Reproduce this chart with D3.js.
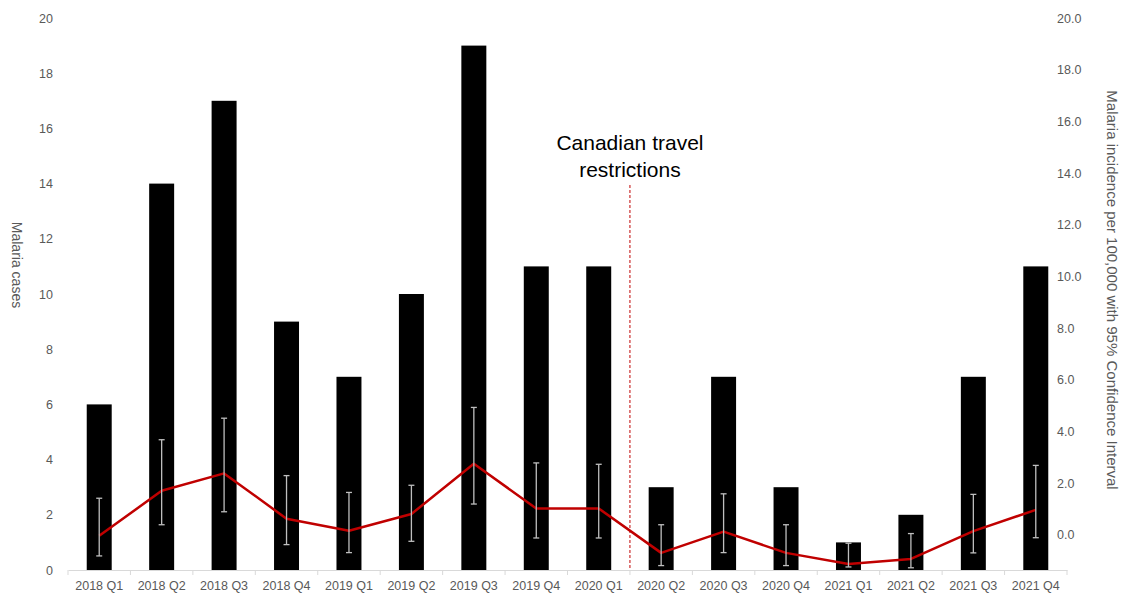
<!DOCTYPE html>
<html>
<head>
<meta charset="utf-8">
<script src="https://cdn.jsdelivr.net/npm/d3@7/dist/d3.min.js"></script>
<style>
  html, body { margin: 0; padding: 0; background: #ffffff; }
  svg { display: block; font-family: "Liberation Sans", Arial, sans-serif; }
</style>
</head>
<body>
<svg id="chart" width="1125" height="594"></svg>
<script>
// Quarterly malaria cases with incidence per 100,000 and 95% CI
const quarters = ["2018 Q1","2018 Q2","2018 Q3","2018 Q4","2019 Q1","2019 Q2","2019 Q3","2019 Q4",
                  "2020 Q1","2020 Q2","2020 Q3","2020 Q4","2021 Q1","2021 Q2","2021 Q3","2021 Q4"];
const cases = [6, 14, 17, 9, 7, 10, 19, 11, 11, 3, 7, 3, 1, 2, 7, 11];
const incidence = [1.24, 2.87, 3.50, 1.86, 1.42, 2.03, 3.85, 2.23, 2.23, 0.62, 1.39, 0.62, 0.22, 0.40, 1.41, 2.18];
const ciLower = [0.51, 1.64, 2.11, 0.92, 0.63, 1.04, 2.39, 1.16, 1.16, 0.16, 0.63, 0.16, 0.11, 0.08, 0.62, 1.17];
const ciUpper = [2.60, 4.72, 5.50, 3.42, 2.81, 3.07, 5.89, 3.88, 3.83, 1.64, 2.76, 1.64, 0.97, 1.32, 2.74, 3.79];
const leftTicks = [0, 2, 4, 6, 8, 10, 12, 14, 16, 18, 20];
const rightTicks = [0, 2, 4, 6, 8, 10, 12, 14, 16, 18, 20];
const restrictionsAfter = "2020 Q1";

const svg = d3.select("#chart");
const plot = { left: 68, right: 1067, top: 18, bottom: 570 };

const x = d3.scaleBand().domain(quarters).range([plot.left, plot.right]).paddingInner(0.6).paddingOuter(0.3);
const xBand = d3.scaleBand().domain(quarters).range([plot.left, plot.right]);
const yLeft = d3.scaleLinear().domain([0, 20]).range([plot.bottom, plot.top]);
const yRight = d3.scaleLinear().domain([-1.354, 20]).range([plot.bottom, plot.top]);

const grey = "#595959";

// Bars: case counts
svg.append("g").selectAll("rect").data(cases).join("rect")
  .attr("x", (d, i) => x(quarters[i]))
  .attr("y", d => yLeft(d))
  .attr("width", x.bandwidth())
  .attr("height", d => yLeft(0) - yLeft(d))
  .attr("fill", "#000000");

// X axis baseline with category separators
const xAxisG = svg.append("g").attr("transform", `translate(0,${plot.bottom})`)
  .call(d3.axisBottom(xBand).tickSize(0).tickPadding(0));
xAxisG.select(".domain").attr("stroke", "#d9d9d9").attr("stroke-width", 1);
xAxisG.selectAll(".tick text")
  .attr("y", 20).attr("dy", 0).attr("fill", grey).style("font-size", "12.5px")
  .style("font-family", "Liberation Sans, Arial, sans-serif");
xAxisG.selectAll(".sep").data(d3.range(quarters.length + 1)).join("line")
  .attr("class", "sep")
  .attr("x1", i => plot.left + i * xBand.step()).attr("x2", i => plot.left + i * xBand.step())
  .attr("y1", 0).attr("y2", 5)
  .attr("stroke", "#d9d9d9");

// Left axis labels
const leftAxis = svg.append("g").attr("transform", "translate(53,0)")
  .call(d3.axisLeft(yLeft).tickValues(leftTicks).tickSize(0).tickPadding(0).tickFormat(d3.format("d")));
leftAxis.select(".domain").remove();
leftAxis.selectAll("text").attr("fill", grey).style("font-size", "12.5px")
  .style("font-family", "Liberation Sans, Arial, sans-serif");

// Right axis labels
const rightAxis = svg.append("g").attr("transform", "translate(1057,0)")
  .call(d3.axisRight(yRight).tickValues(rightTicks).tickSize(0).tickPadding(0).tickFormat(d3.format(".1f")));
rightAxis.select(".domain").remove();
rightAxis.selectAll("text").attr("fill", grey).style("font-size", "12.5px")
  .style("font-family", "Liberation Sans, Arial, sans-serif");

// Axis titles
svg.append("text")
  .attr("transform", "translate(12,265) rotate(90)")
  .attr("text-anchor", "middle").attr("fill", grey).style("font-size", "14px")
  .text("Malaria cases");
svg.append("text")
  .attr("transform", "translate(1107,290) rotate(90)")
  .attr("text-anchor", "middle").attr("fill", grey).style("font-size", "15px")
  .text("Malaria incidence per 100,000 with 95% Confidence Interval");

// Travel restriction marker
const markX = xBand(restrictionsAfter) + xBand.step();
svg.append("line")
  .attr("x1", markX).attr("x2", markX)
  .attr("y1", 185).attr("y2", plot.bottom)
  .attr("stroke", "#c00000").attr("stroke-width", 1)
  .attr("stroke-dasharray", "3,2");
svg.append("text")
  .attr("x", markX).attr("y", 150)
  .attr("text-anchor", "middle").attr("fill", "#000").style("font-size", "21px")
  .text("Canadian travel");
svg.append("text")
  .attr("x", markX).attr("y", 177)
  .attr("text-anchor", "middle").attr("fill", "#000").style("font-size", "21px")
  .text("restrictions");

// Incidence line
const cx = q => xBand(q) + xBand.bandwidth() / 2;
svg.append("path")
  .datum(incidence)
  .attr("fill", "none")
  .attr("stroke", "#c00000")
  .attr("stroke-width", 2.5)
  .attr("stroke-linejoin", "round")
  .attr("d", d3.line().x((d, i) => cx(quarters[i])).y(d => yLeft(d)));

// 95% confidence interval whiskers
const ci = svg.append("g").attr("stroke", "#bfbfbf").attr("stroke-width", 1.3);
quarters.forEach((q, i) => {
  const px = cx(q);
  ci.append("line").attr("x1", px).attr("x2", px).attr("y1", yLeft(ciLower[i])).attr("y2", yLeft(ciUpper[i]));
  ci.append("line").attr("x1", px - 3).attr("x2", px + 3).attr("y1", yLeft(ciLower[i])).attr("y2", yLeft(ciLower[i]));
  ci.append("line").attr("x1", px - 3).attr("x2", px + 3).attr("y1", yLeft(ciUpper[i])).attr("y2", yLeft(ciUpper[i]));
});
</script>
</body>
</html>
